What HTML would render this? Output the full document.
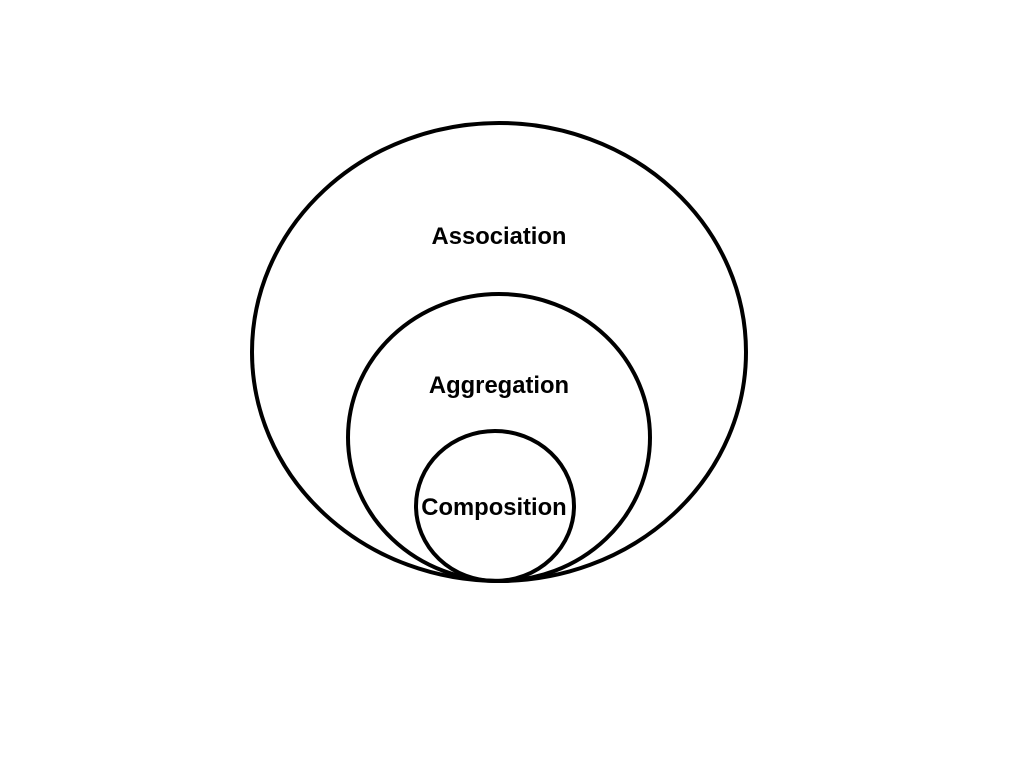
<!DOCTYPE html>
<html>
<head>
<meta charset="utf-8">
<style>
html,body{margin:0;padding:0;background:#fff;}
svg{display:block;}
text{font-family:"Liberation Sans",Arial,sans-serif;font-weight:bold;font-size:23.8px;fill:#000;}
</style>
</head>
<body>
<svg width="1024" height="768" viewBox="0 0 1024 768" xmlns="http://www.w3.org/2000/svg">
<rect width="1024" height="768" fill="#fff"/>
<g fill="none" stroke="#000" stroke-width="4">
<ellipse cx="499" cy="352" rx="247" ry="229"/>
<ellipse cx="499" cy="437.5" rx="151" ry="143.5"/>
<ellipse cx="495" cy="506" rx="79" ry="75"/>
</g>
<text x="499" y="244" text-anchor="middle">Association</text>
<text x="499" y="393" text-anchor="middle">Aggregation</text>
<text x="494" y="515" text-anchor="middle">Composition</text>
</svg>
</body>
</html>
